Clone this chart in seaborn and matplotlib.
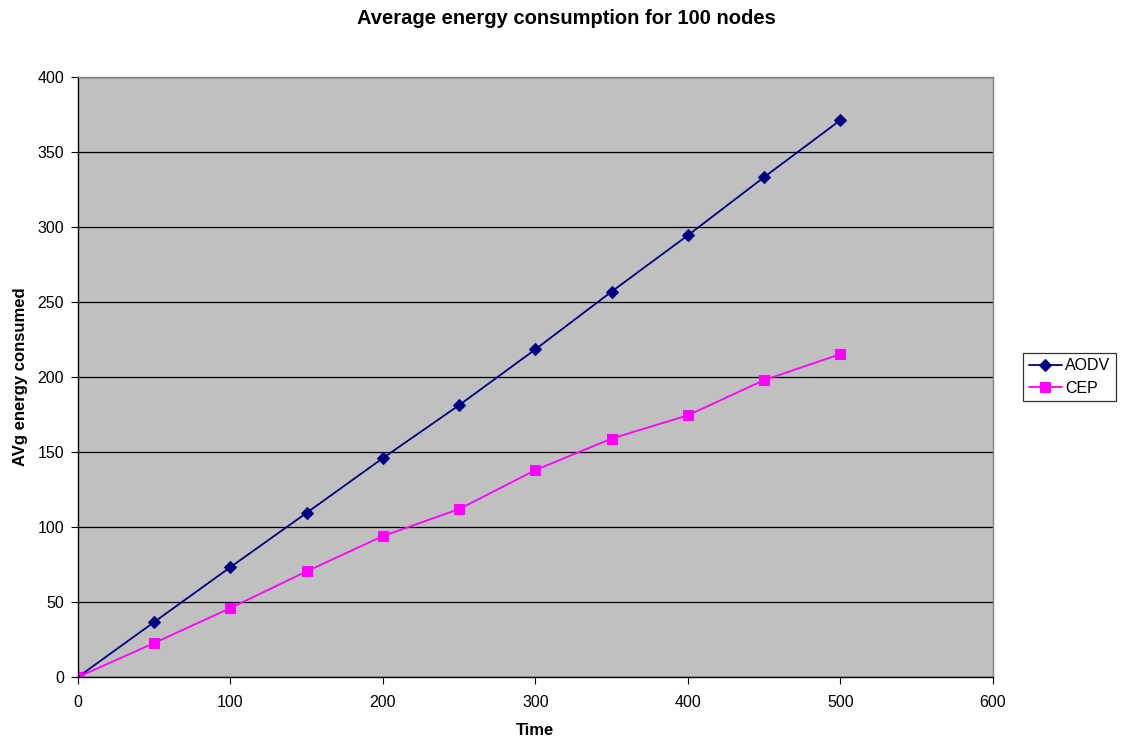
import matplotlib
matplotlib.use("Agg")
import matplotlib.pyplot as plt
import seaborn as sns
import pandas as pd

time = [0, 50, 100, 150, 200, 250, 300, 350, 400, 450, 500]
aodv = [0, 36.7, 73.3, 109.5, 146, 181.3, 218.5, 257, 294.5, 333.3, 371.3]
cep = [0, 22.7, 46, 70.5, 94, 112, 138, 159, 174.5, 198, 215.3]

df = pd.DataFrame({"Time": time * 2,
                   "value": aodv + cep,
                   "series": ["AODV"] * len(time) + ["CEP"] * len(time)})

sns.set_theme(style="white")
plt.rcParams["font.family"] = ["Liberation Sans", "DejaVu Sans"]
plt.rcParams["text.color"] = "black"
plt.rcParams["axes.labelcolor"] = "black"

fig = plt.figure(figsize=(11.32, 7.44), dpi=100)
ax = fig.add_axes([0.0689, 0.09, 0.8083, 0.8065])
ax.set_facecolor("#C0C0C0")

palette = {"AODV": "#000080", "CEP": "#FF00FF"}
markers = {"AODV": "D", "CEP": "s"}
for name in ["AODV", "CEP"]:
    sub = df[df["series"] == name]
    sns.lineplot(data=sub, x="Time", y="value", ax=ax, color=palette[name],
                 marker=markers[name], markersize=6 if name == "AODV" else 7,
                 markeredgecolor=palette[name], linewidth=1.3, label=name)

ax.set_xlim(0, 600)
ax.set_ylim(0, 400)
ax.set_xticks(range(0, 601, 100))
ax.set_yticks(range(0, 401, 50))
ax.yaxis.grid(True, color="black", linewidth=0.9)
ax.xaxis.grid(False)
ax.set_axisbelow(True)
for side in ("top", "right"):
    ax.spines[side].set_color("#808080")
for side in ("left", "bottom"):
    ax.spines[side].set_color("black")
for s in ax.spines.values():
    s.set_linewidth(1)
ax.tick_params(axis="both", direction="out", length=5, width=0.8, colors="black",
               labelsize=11.5, left=True, bottom=True)
ax.tick_params(axis="x", pad=8)
ax.tick_params(axis="y", pad=5)

ax.set_xlabel("Time", fontsize=12, fontweight="bold", labelpad=9)
ax.set_ylabel("AVg energy consumed", fontsize=12, fontweight="bold", labelpad=7)
fig.text(0.5, 1 - 18 / 744, "Average energy consumption for 100 nodes",
         ha="center", va="center", fontsize=14.5, fontweight="bold")

leg = ax.legend(loc="center left", bbox_to_anchor=(1.0328, 0.5), frameon=True,
                fancybox=False, edgecolor="black", fontsize=11.5,
                handlelength=2.1, borderpad=0.35, labelspacing=0.45,
                handletextpad=0.2, borderaxespad=0)
leg.get_frame().set_linewidth(0.9)

fig.savefig("out.png", dpi=100, facecolor="white")
